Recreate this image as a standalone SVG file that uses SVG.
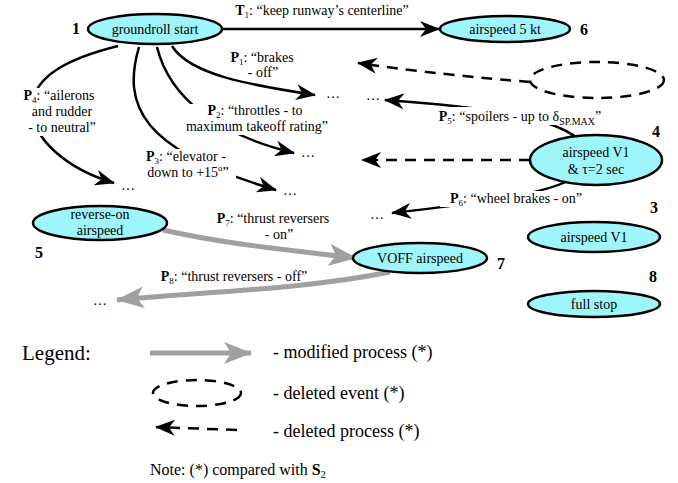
<svg xmlns="http://www.w3.org/2000/svg" width="678" height="483" viewBox="0 0 678 483" font-family="serif">
<defs>
<marker id="ah" markerUnits="userSpaceOnUse" markerWidth="20" markerHeight="16" viewBox="0 0 20 16" refX="19" refY="8" orient="auto">
<path d="M0,0 L20,8 L0,16 L6,8 z" fill="#000"/>
</marker>
<marker id="gh" markerUnits="userSpaceOnUse" markerWidth="28" markerHeight="22" viewBox="0 0 28 22" refX="27" refY="11" orient="auto">
<path d="M0,0 L28,11 L0,22 L7,11 z" fill="#a0a0a0"/>
</marker>
</defs>

<g id="connectors" fill="none" stroke="#000" stroke-width="2.5">
<path d="M222,29 L439,29" marker-end="url(#ah)"/>
<path d="M172,46 C190,75 250,85 315,95" marker-end="url(#ah)"/>
<path d="M157,47 C170,100 220,135 294,153" marker-end="url(#ah)"/>
<path d="M139,47 C122,105 140,150 276,190" marker-end="url(#ah)"/>
<path d="M118,46 C70,58 35,75 32,105 C30,140 70,170 114,183" marker-end="url(#ah)"/>
<path d="M577,138 C555,120 500,108 385,100" marker-end="url(#ah)"/>
<path d="M530,82 C480,78 420,72 358,63" stroke-dasharray="11 8" marker-end="url(#ah)"/>
<path d="M530,160 L362,160" stroke-dasharray="11 8" marker-end="url(#ah)"/>
<path d="M570,180 C540,195 480,203 392,213" marker-end="url(#ah)"/>
<path d="M163,230 C230,245 290,250 356,258" stroke="#a0a0a0" stroke-width="5" marker-end="url(#gh)"/>
<path d="M390,272 C300,290 200,292 117,300" stroke="#a0a0a0" stroke-width="5" marker-end="url(#gh)"/>
</g>

<g id="labels" font-family="serif" font-size="14" text-anchor="middle" fill="#000">
<g fill="#fff">
<rect x="176" y="104" width="164" height="31"/>
<rect x="138" y="149" width="98" height="32"/>
<rect x="16" y="88" width="88" height="48"/>
<rect x="422" y="107" width="200" height="18"/>
<rect x="440" y="191" width="154" height="16"/>
</g>
<text font-family="serif" x="322" y="15"><tspan font-weight="bold">T</tspan><tspan font-size="9" dy="3">1</tspan><tspan dy="-3">: &#8220;keep runway&#8217;s centerline&#8221;</tspan></text>
<text font-family="serif" x="262" y="62"><tspan font-weight="bold">P</tspan><tspan font-size="9" dy="3">1</tspan><tspan dy="-3">: &#8220;brakes</tspan></text>
<text font-family="serif" x="263" y="77">- off&#8221;</text>
<text font-family="serif" x="255" y="115"><tspan font-weight="bold">P</tspan><tspan font-size="9" dy="3">2</tspan><tspan dy="-3">: &#8220;throttles - to</tspan></text>
<text font-family="serif" x="257" y="131">maximum takeoff rating&#8221;</text>
<text font-family="serif" x="186" y="161"><tspan font-weight="bold">P</tspan><tspan font-size="9" dy="3">3</tspan><tspan dy="-3">: &#8220;elevator -</tspan></text>
<text font-family="serif" x="188" y="177">down to +15<tspan font-size="9" dy="-6">o</tspan><tspan dy="6">&#8221;</tspan></text>
<text font-family="serif" x="59" y="100"><tspan font-weight="bold">P</tspan><tspan font-size="9" dy="3">4</tspan><tspan dy="-3">: &#8220;ailerons</tspan></text>
<text font-family="serif" x="62" y="116">and rudder</text>
<text font-family="serif" x="62" y="132">- to neutral&#8221;</text>
<text font-family="serif" x="520" y="121"><tspan font-weight="bold">P</tspan><tspan font-size="9" dy="3">5</tspan><tspan dy="-3">: &#8220;spoilers - up to &#948;</tspan><tspan font-size="10" dy="4">SP.MAX</tspan><tspan dy="-4">&#8221;</tspan></text>
<text font-family="serif" x="516" y="203"><tspan font-weight="bold">P</tspan><tspan font-size="9" dy="3">6</tspan><tspan dy="-3">: &#8220;wheel brakes - on&#8221;</tspan></text>
<text font-family="serif" x="273" y="223"><tspan font-weight="bold">P</tspan><tspan font-size="9" dy="3">7</tspan><tspan dy="-3">: &#8220;thrust reversers</tspan></text>
<text font-family="serif" x="279" y="239">- on&#8221;</text>
<text font-family="serif" x="234" y="281"><tspan font-weight="bold">P</tspan><tspan font-size="9" dy="3">8</tspan><tspan dy="-3">: &#8220;thrust reversers - off&#8221;</tspan></text>
<text font-family="serif" x="333" y="98">&#8230;</text>
<text font-family="serif" x="373" y="100">&#8230;</text>
<text font-family="serif" x="308" y="157">&#8230;</text>
<text font-family="serif" x="290" y="195">&#8230;</text>
<text font-family="serif" x="128" y="190">&#8230;</text>
<text font-family="serif" x="377" y="219">&#8230;</text>
<text font-family="serif" x="100" y="305">&#8230;</text>
</g>

<g id="n1" font-family="serif">
<ellipse cx="155" cy="29" rx="67" ry="15" fill="#9ff6fa" stroke="#000" stroke-width="2.5"/>
<text font-family="serif" font-size="14" text-anchor="middle" x="155" y="34">groundroll start</text>
<text font-family="serif" font-size="16" font-weight="bold" x="72" y="34">1</text>
</g>
<g id="n6" font-family="serif">
<ellipse cx="505" cy="29" rx="65" ry="13" fill="#9ff6fa" stroke="#000" stroke-width="2.5"/>
<text font-family="serif" font-size="14" text-anchor="middle" x="505" y="34">airspeed 5 kt</text>
<text font-family="serif" font-size="16" font-weight="bold" x="580" y="35">6</text>
</g>
<g id="deleted-event">
<ellipse cx="597" cy="80" rx="67" ry="18" fill="none" stroke="#000" stroke-width="2.5" stroke-dasharray="11 8"/>
</g>
<g id="n4" font-family="serif">
<ellipse cx="596" cy="160" rx="66" ry="25" fill="#9ff6fa" stroke="#000" stroke-width="2.5"/>
<text font-family="serif" font-size="14" text-anchor="middle" x="596" y="157">airspeed V1</text>
<text font-family="serif" font-size="14" text-anchor="middle" x="596" y="174">&amp; &#964;=2 sec</text>
<text font-family="serif" font-size="16" font-weight="bold" x="652" y="137">4</text>
</g>
<g id="n3" font-family="serif">
<ellipse cx="594" cy="237" rx="66" ry="15" fill="#9ff6fa" stroke="#000" stroke-width="2.5"/>
<text font-family="serif" font-size="14" text-anchor="middle" x="594" y="242">airspeed V1</text>
<text font-family="serif" font-size="16" font-weight="bold" x="650" y="213">3</text>
</g>
<g id="n8" font-family="serif">
<ellipse cx="594" cy="304" rx="66" ry="13" fill="#9ff6fa" stroke="#000" stroke-width="2.5"/>
<text font-family="serif" font-size="14" text-anchor="middle" x="594" y="309">full stop</text>
<text font-family="serif" font-size="16" font-weight="bold" x="649" y="282">8</text>
</g>
<g id="n7" font-family="serif">
<ellipse cx="420" cy="258" rx="67" ry="15" fill="#9ff6fa" stroke="#000" stroke-width="2.5"/>
<text font-family="serif" font-size="14" text-anchor="middle" x="420" y="263">VOFF airspeed</text>
<text font-family="serif" font-size="16" font-weight="bold" x="497" y="269">7</text>
</g>
<g id="n5" font-family="serif">
<ellipse cx="100" cy="223" rx="67" ry="17" fill="#9ff6fa" stroke="#000" stroke-width="2.5"/>
<text font-family="serif" font-size="14" text-anchor="middle" x="100" y="219">reverse-on</text>
<text font-family="serif" font-size="14" text-anchor="middle" x="100" y="235">airspeed</text>
<text font-family="serif" font-size="16" font-weight="bold" x="35" y="258">5</text>
</g>

<g id="legend" font-family="serif">
<text font-family="serif" x="22" y="360" font-size="21">Legend:</text>
<path d="M150,353 L251,353" fill="none" stroke="#a0a0a0" stroke-width="5" marker-end="url(#gh)"/>
<text font-family="serif" font-size="18" x="273" y="358">- modified process (*)</text>
<ellipse cx="197" cy="393" rx="44" ry="13" fill="none" stroke="#000" stroke-width="2.5" stroke-dasharray="11 8"/>
<text font-family="serif" font-size="18" x="273" y="399">- deleted event (*)</text>
<path d="M237,430 L156,427" fill="none" stroke="#000" stroke-width="2.5" stroke-dasharray="11 8" marker-end="url(#ah)"/>
<text font-family="serif" font-size="18" x="273" y="437">- deleted process (*)</text>
<text font-family="serif" x="150" y="475" font-size="16">Note: (*) compared with <tspan font-weight="bold">S</tspan><tspan font-size="10" dy="3">2</tspan></text>
</g>
</svg>
